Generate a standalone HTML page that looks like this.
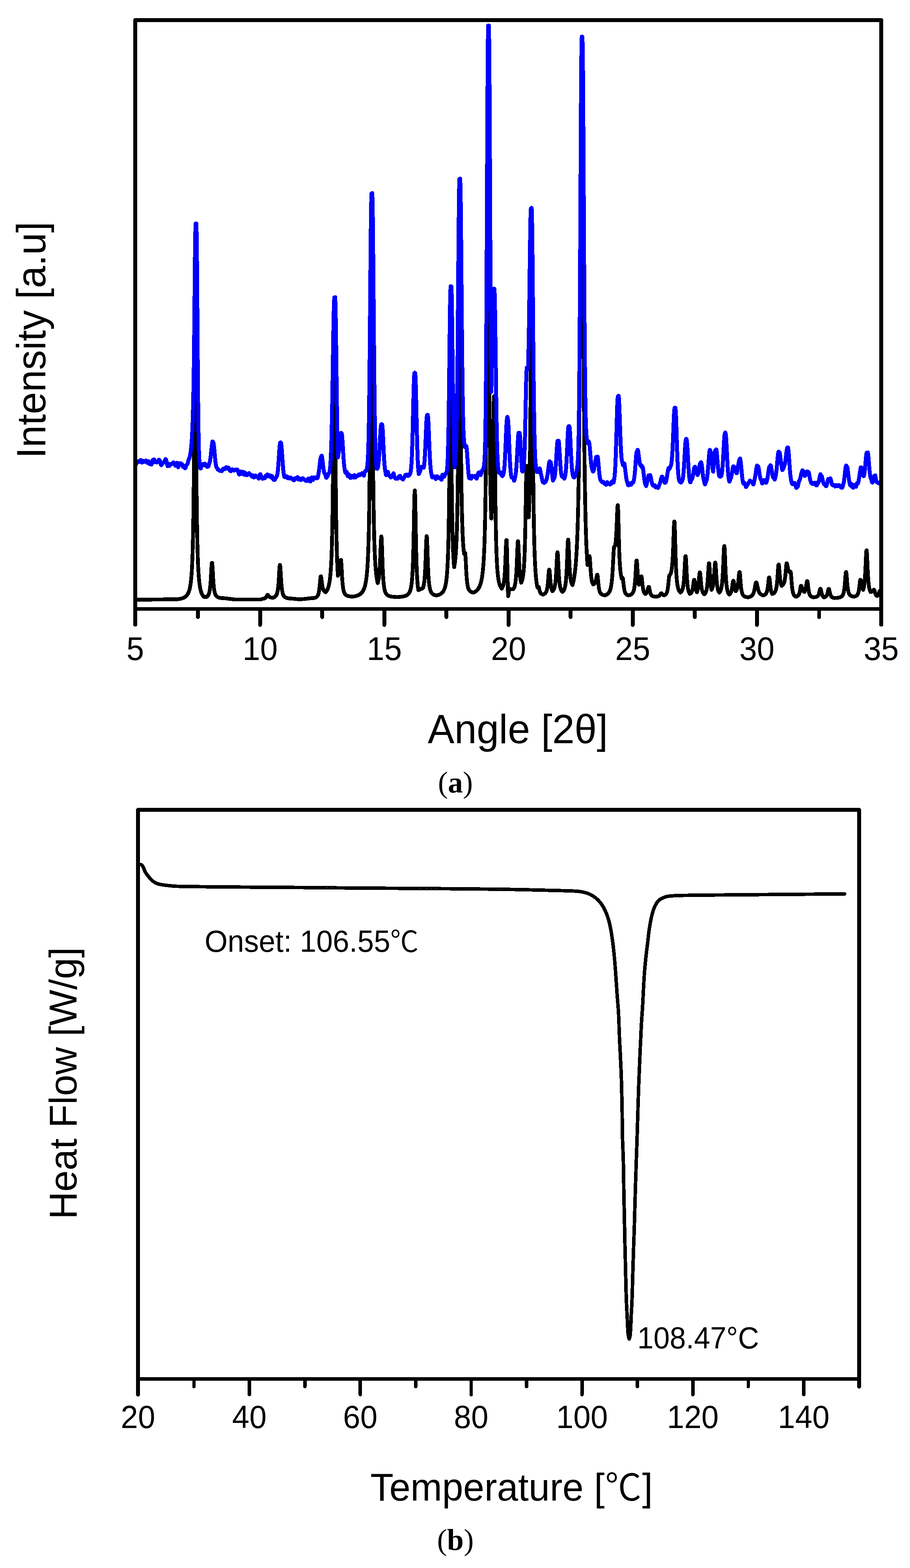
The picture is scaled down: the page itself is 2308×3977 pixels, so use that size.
<!DOCTYPE html>
<html lang="en"><head><meta charset="utf-8"><title>Figure: XRD pattern and DSC curve</title>
<style>html,body{margin:0;padding:0;background:#fff}body{width:2308px;height:3977px;overflow:hidden}svg{display:block}text{font-family:"Liberation Sans","Noto Sans CJK KR",sans-serif;fill:#000}text.cap{font-family:"Liberation Serif","Noto Serif CJK KR",serif}</style></head><body>
<svg width="2308" height="3977" viewBox="0 0 2308 3977" role="img" aria-label="(a) XRD patterns, intensity versus angle 2-theta; (b) DSC curve, heat flow versus temperature">
<rect width="2308" height="3977" fill="#fff"/>
<g id="chart-a">
<clipPath id="clipA"><rect x="343" y="51" width="1892" height="1494"/></clipPath>
<g clip-path="url(#clipA)" fill="none" stroke-linejoin="round" stroke-linecap="round" shape-rendering="crispEdges">
<path d="M345,1521 360,1521 371,1520.9 380,1520.8 387,1520.7 394,1520.6 400,1520.5 407,1520.4 414,1520.3 423,1520.2 434,1520.1 450,1520 455,1519.3 460,1518.2 464,1516.9 468,1515 471,1512.9 474,1509.9 476,1507 477,1505.2 478,1503.1 479,1500.6 480,1497.6 481,1493.9 482,1489.4 483,1483.8 484,1476.6 485,1467.4 486,1455.2 487,1438.8 488,1416.2 489,1383.9 490,1337 491,1267.6 492,1167.1 493,1037.9 494,924 494.9,900 495,900 496,941.5 497,1065.6 498,1191.3 499,1285.4 500,1349.9 501,1393.6 502,1423.7 503,1445 504,1460.5 505,1472 506,1480.8 507,1487.6 508,1493.1 509,1497.4 510,1500.9 511,1503.9 512,1506.3 514,1510.1 516,1512.9 517,1514 524,1514 526,1512.5 527,1511.4 528,1509.9 529,1508.1 530,1505.5 531,1502 532,1496.9 533,1489.5 534,1478.6 535,1462.9 536,1443.7 537,1429.1 537.7,1427.5 538,1427.5 539,1436.6 540,1455.5 541,1472.9 542,1485.7 543,1494.3 544,1500.2 545,1504.3 546,1507.2 547,1509.3 548,1510.9 550,1513.1 552,1514.4 555,1515.7 559,1516.6 562,1517 567,1517.1 576,1518 582,1518.9 595,1520.4 660,1520.5 662,1520.3 667,1518.5 670,1518 672,1517.3 673,1516.7 674,1515.8 675,1514.5 677,1510.4 678,1508.8 679,1508.7 680,1509.6 682,1512.7 684,1514.4 687,1515.5 690,1515.9 692,1516 695,1515 697,1513.9 699,1512.1 700,1510.9 701,1509.3 702,1507.1 703,1504.1 704,1499.8 705,1493.6 706,1484.4 707,1471 708,1453.5 709,1437.1 710,1432.7 711,1437.2 712,1453.7 713,1471.4 714,1484.9 715,1494.2 716,1500.5 717,1504.8 718,1507.9 719,1510.1 720,1511.7 722,1513.9 724,1515.3 727,1516.6 731,1517.5 735,1518 739,1518.1 747,1518.9 756,1519.9 762,1520 774,1519 780,1518.2 790,1517.1 795,1517 798,1516.4 800,1515.8 802,1514.8 804,1513.2 806,1510.5 807,1508.2 808,1505.1 809,1500.5 810,1493.6 811,1483.9 812,1471.9 813,1462.7 814,1461.7 815,1466 816,1474.9 817,1483.1 818,1489.1 819,1493.2 820,1496 821,1497.9 823,1500.2 825,1501.6 826,1502 828,1499.5 830,1496.1 831,1494 832,1491.4 833,1488.3 834,1484.6 835,1480.1 836,1474.4 837,1467.2 838,1457.9 839,1445.7 840,1429.3 841,1406.7 842,1374.6 843,1327.9 844,1259 845,1158.8 846,1027.3 847,904.2 848,871 849,905.1 850,1031.4 851,1166.3 852,1269.1 853,1339.8 854,1387.7 855,1420.6 856,1443.9 857,1460.7 858,1458.8 859,1456 860,1452 861,1446 862,1437.6 863,1427.5 864,1420.5 865,1420.1 866,1431.2 867,1451 868,1468.7 869,1481.4 870,1490.1 871,1496 872,1500.1 873,1503 874,1505.1 875,1506.7 877,1508.9 879,1510.3 881,1511.2 886,1512.5 894,1513.4 901,1512.2 904,1511.4 909,1509.5 912,1507.9 915,1505.7 918,1502.7 920,1499.9 921,1498.3 923,1494.1 924,1491.5 925,1488.5 926,1484.8 927,1480.5 928,1475.2 929,1468.7 930,1460.5 931,1450.3 932,1437.1 933,1419.7 934,1396.3 935,1364 936,1318.2 937,1251.6 938,1153.3 939,1010.4 940,822.9 941,647.4 942,600 943,647 944,821.5 945,1007.7 946,1149.7 947,1247.3 948,1313.5 949,1358.9 950,1391 951,1414.3 952,1431.6 953,1444.7 954,1454.9 955,1462.9 956,1469.4 957,1474.7 958,1479 959,1475.8 960,1471.5 961,1465.4 962,1456.5 963,1443.5 964,1424.3 965,1398.4 966,1371.6 967,1360.7 967.2,1360.7 968,1364.9 969,1391.6 970,1424 971,1449.8 972,1467.7 973,1479.8 974,1488.1 975,1493.9 976,1498.1 977,1501.2 978,1503.6 979,1505.4 981,1508 983,1509.7 986,1511.3 990,1512.6 993,1513.2 1000,1514 1006,1514.3 1008,1514.4 1019,1513.4 1025,1512.3 1028,1511.4 1031,1510.1 1034,1508.1 1036,1506.1 1038,1503.2 1039,1501.3 1040,1498.9 1041,1495.9 1042,1491.9 1043,1486.8 1044,1479.9 1045,1470.3 1046,1456.7 1047,1437 1048,1407.9 1049,1365.6 1050,1310 1051,1258 1052,1244 1053,1258.6 1054,1312.8 1055,1370.6 1056,1414.7 1057,1445 1058,1465.5 1059,1479.6 1060,1489.6 1061,1496.8 1063,1496.4 1068,1493.4 1070,1493 1071,1492.5 1072,1491.5 1073,1491 1074,1487.5 1075,1482.7 1076,1475.9 1077,1466.1 1078,1451.7 1079,1430.5 1080,1401.8 1081,1372 1082,1360 1082.2,1360 1083,1364.1 1084,1390.5 1085,1422.5 1086,1447.9 1087,1465.6 1088,1477.6 1089,1485.8 1090,1491.5 1091,1495.7 1092,1498.7 1093,1501 1094,1502.8 1096,1505.4 1099,1507.7 1103,1509.4 1107,1510.3 1112,1509 1117,1506.8 1120,1504.7 1122,1502.8 1124,1500.2 1126,1496.7 1127,1494.4 1128,1491.7 1129,1488.3 1130,1484.2 1131,1479 1132,1472.4 1133,1463.7 1134,1452.2 1135,1436.6 1136,1414.7 1137,1383.2 1138,1337 1139,1268.9 1140,1173.3 1141,1062.3 1142,992.3 1142.5,990 1143,992.2 1144,1058.6 1145,1163.9 1146,1254.6 1147,1319.3 1148,1363.1 1149,1392.9 1150,1413.7 1151,1428.5 1151.9,1438.5 1153,1432.3 1154,1425.2 1155,1416.2 1156,1404.4 1157,1388.8 1158,1367.5 1159,1337.9 1160,1295.5 1161,1233.4 1162,1141.6 1163,1011.5 1164,856 1165,747.3 1165.6,740 1166,740.8 1167,824.6 1168,974.7 1169,1108.5 1170,1204.8 1171,1270.1 1172,1314.6 1173,1345.5 1174,1367.5 1175,1383.6 1176,1395.7 1177,1405 1178,1403.2 1179,1402 1180,1402.5 1181,1416.2 1182,1438 1183,1456.9 1184,1470.2 1185,1479.3 1186,1485.5 1187,1489.8 1188,1492.9 1189,1495.2 1190,1496.9 1192,1499.2 1194,1500.7 1197,1502 1200.8,1503 1203,1502 1205,1500.9 1209,1497.9 1211,1495.9 1213,1493.3 1215,1490.1 1217,1485.8 1218,1483.2 1219,1480.2 1220,1476.6 1221,1472.3 1222,1467.2 1223,1461.1 1224,1453.5 1225,1444.2 1226,1432.4 1227,1417.4 1228,1397.6 1229,1371.3 1230,1335.3 1231,1284.6 1232,1211.4 1233,1103.7 1234,945.4 1235,727.9 1236,493.1 1237,380 1237.3,380 1238,398.4 1239,568.5 1240,791.4 1241,972.8 1242,1099.7 1243,1185.6 1244,1244.3 1245,1285.4 1246,1315 1247,1296.4 1248,1269.4 1249,1229.5 1250,1171.5 1251,1095.5 1252,1024.2 1253,1005 1254,1030.8 1255,1126.5 1256,1228.7 1257,1306.5 1258,1360.1 1259,1396.4 1260,1421.3 1261,1438.9 1262,1451.7 1263,1461.2 1264,1468.4 1265,1474 1266,1478.4 1267,1481.9 1268,1484.8 1269,1487.2 1270,1489.2 1272,1492.3 1272.6,1493 1274,1490.8 1275,1488.7 1276,1485.9 1277,1482.1 1278,1476.8 1279,1469.2 1280,1458 1281,1441.5 1282,1418.2 1283,1390.2 1284,1370.7 1284.6,1369.4 1285,1369.7 1286,1396.8 1287,1445.5 1288,1488.9 1288.7,1512 1289,1511.6 1290,1505.9 1291,1497.8 1292,1494 1300,1494.6 1301.7,1494.6 1303,1492.6 1304,1490.6 1305,1487.9 1306,1484.3 1307,1479.2 1308,1472 1309,1461.4 1310,1445.8 1311,1423.5 1312,1396 1313,1375.1 1313.7,1372.8 1314,1372.8 1315,1384.8 1316,1409.7 1317,1432.8 1318,1449.6 1319,1461 1320,1468.8 1321,1474.2 1322,1478 1323,1475.6 1324,1472.7 1325,1468.9 1326,1464.1 1327,1457.7 1328,1448.9 1329,1436.8 1330,1419.5 1331,1394.1 1332,1356.6 1333,1303.1 1334,1237.3 1335,1187.1 1335.7,1181.7 1336,1181.7 1337,1198.9 1338,1234.6 1339,1267.7 1340,1291.8 1341,1308.2 1341.3,1312 1342,1288.7 1343,1243.2 1344,1176.2 1345,1077.5 1346,940.4 1347,786.6 1348,700.8 1348.4,700 1349,708.2 1350,830.4 1351,1005.3 1352,1151.6 1353,1254.7 1354,1324.6 1355,1372.3 1356,1405.6 1357,1429.5 1358,1447 1359,1460.3 1360,1470.5 1361,1478.5 1362,1484.8 1363,1490 1364,1488.8 1365,1488 1366,1488.1 1367,1491 1368,1495.5 1369,1499.4 1370,1502.2 1371,1504.1 1372,1505.4 1374,1506.9 1377,1508 1381,1506.3 1383,1504.6 1385,1501.7 1386,1499.4 1387,1496.1 1388,1491.3 1389,1484.3 1390,1474.1 1391,1460.6 1392,1448.1 1393,1444.7 1394,1448 1395,1460.1 1396,1473 1397,1482.9 1398,1489.7 1399,1494.3 1400,1497.5 1401,1499.7 1403,1497.6 1404,1496 1405,1494 1406,1491.2 1407,1487.4 1408,1482 1409,1474.1 1410,1462.4 1411,1445.6 1412,1423.9 1413,1404.7 1413.9,1400.7 1414,1400.7 1415,1407.8 1416,1428.9 1417,1450.4 1418,1466.4 1419,1477.4 1420,1484.9 1421,1490 1422,1493.6 1423,1496.3 1424,1498.2 1426,1500.9 1426.5,1501.4 1428,1500 1429,1498.7 1430,1497.1 1431,1495.1 1432,1492.4 1433,1488.7 1434,1483.7 1435,1476.5 1436,1466 1437,1450.6 1438,1428.2 1439,1399.4 1440,1374 1440.9,1368.7 1441,1368.7 1442,1377 1444,1426.7 1445,1445.4 1446,1458.2 1447,1466.9 1448,1472.9 1449,1477.2 1450,1480.3 1451,1482.6 1452,1484.3 1453,1480.7 1454,1476.6 1455,1471.8 1456,1466.4 1457,1460.1 1458,1452.8 1459,1444.1 1460,1433.9 1461,1421.6 1462,1406.7 1463,1388.5 1464,1365.9 1465,1337.6 1466,1301.5 1467,1254.8 1468,1193.5 1469,1112 1470,1002.6 1471,856.7 1472,668.2 1473,446.3 1474,236 1475,123.5 1475.5,120 1476,123.5 1477,237 1478,449.1 1479,673 1480,863.1 1481,1010.4 1482,1120.7 1483,1202.9 1484,1264.8 1485,1311.9 1486,1348.3 1487,1376.9 1488,1399.6 1489,1418 1490,1433 1491,1429.6 1492,1424.7 1493,1418.2 1494,1412.1 1495,1410.5 1496,1414.6 1497,1429.9 1498,1446.2 1499,1458.6 1500,1467.2 1501,1473 1502,1476.9 1503,1479.8 1504.5,1482.6 1507,1481.1 1508,1480.1 1509,1478.6 1510,1476.5 1511,1473.3 1512,1468.8 1513,1463 1514,1458.3 1515,1457.6 1516,1462 1517,1473 1518,1483.5 1519,1491.3 1520,1496.7 1521,1500.3 1522,1502.8 1523,1504.5 1525,1506.8 1528,1508.6 1533,1509.9 1534,1510 1538,1508.5 1541,1506.6 1543,1504.7 1545,1502 1546,1500.2 1547,1497.9 1548,1495 1549,1491.3 1550,1486.4 1551,1480 1552,1471.5 1553,1460 1554,1444.8 1555,1425.9 1556,1405.5 1557,1389.8 1558,1386 1559,1385.6 1560.5,1383 1561,1379.3 1562,1369.3 1563,1354.6 1564,1333.4 1565,1306.6 1566,1284.6 1566.8,1281.2 1567,1281.2 1568,1298 1569,1339.6 1570,1379.7 1571,1409.3 1572,1429.5 1573,1443.3 1574,1452.7 1575,1459.4 1576,1464.3 1577,1468 1578,1466 1579,1465.5 1580,1467.9 1581,1476.8 1582,1486.2 1583,1493.5 1584,1498.4 1585,1501.8 1586,1504.1 1587,1505.7 1588,1506.9 1590,1508.5 1592,1509.4 1594,1510 1598,1509 1601,1507.6 1603,1506 1604,1504.9 1605,1503.4 1606,1501.5 1607,1498.9 1608,1495.2 1609,1490 1610,1482.3 1611,1471 1612,1454.9 1613,1435.7 1614,1422.3 1614.6,1421.4 1615,1421.5 1616,1430.8 1617,1447.5 1618,1462.3 1619,1473 1620,1480.3 1620.5,1483 1622,1479.9 1623,1476.5 1624,1471.7 1625,1466 1626,1462 1627,1461.8 1628,1467.5 1629,1477.8 1630,1487 1631,1493.6 1632,1498.1 1633,1501.1 1634,1503.2 1635,1504.7 1636.9,1506.6 1639,1505 1640,1503.7 1641,1501.9 1642,1499.1 1643,1495.2 1644,1490.9 1645,1488.5 1646,1488.8 1647,1492.6 1648,1498 1649,1502.6 1650,1505.8 1651,1508 1652,1509.4 1653,1510.5 1655,1511.8 1658,1512.8 1662,1513.4 1667,1513 1670,1512.3 1672,1511.3 1674,1509 1676,1505.3 1677.2,1504.5 1678,1504.7 1681,1508.2 1683,1509.5 1684.7,1510 1687,1508.8 1689,1507 1690,1505.6 1691,1503.7 1692,1501.1 1693,1497.2 1694,1491.4 1695,1483 1696,1472.1 1697,1461.8 1698,1459 1699,1458.5 1701,1455 1702,1451.7 1703,1447.1 1704,1440.8 1705,1431.6 1706,1418.2 1707,1398.4 1708,1370.8 1709,1339.9 1710,1322.7 1710.4,1322.5 1711,1324.4 1712,1352.2 1713,1392 1714,1425.2 1715,1448.7 1716,1464.6 1717,1475.4 1718,1483 1719,1488.4 1720,1492.4 1721,1495.5 1722,1497.8 1723,1499.6 1725,1502.2 1725.8,1503 1728,1500.8 1729,1499.3 1730,1497.3 1731,1494.7 1732,1491 1733,1485.8 1734,1478.1 1735,1466.8 1736,1450.5 1737,1430 1738,1413.1 1738.8,1410.5 1739,1410.5 1740,1419.1 1741,1440.2 1742,1460.6 1743,1475.7 1744,1486 1745,1493 1746,1497.8 1747,1501.2 1748,1503.7 1749,1505.6 1749.7,1506.6 1752,1505 1753,1503.9 1754,1502.4 1755,1500.2 1756,1497 1757,1492.3 1758,1485.6 1759,1477.3 1760,1471 1761,1470.3 1762,1474.1 1763,1482.1 1764,1489.5 1765,1494.9 1766,1498.6 1767,1501.1 1767.5,1502 1768,1500.9 1769,1497.9 1770,1493.6 1771,1487.3 1772,1478 1773,1465.9 1774,1454.6 1775,1451.5 1776,1454.6 1777,1466.1 1778,1478.4 1779,1487.7 1780,1494.1 1781,1498.5 1782,1501.5 1783,1503.6 1785,1506.3 1786.5,1507.5 1788,1505.9 1789,1504.4 1790,1502.5 1791,1499.8 1792,1496 1793,1490.5 1794,1482.5 1795,1470.7 1796,1454.5 1797,1436.9 1798,1428.5 1798.3,1428.5 1799,1430 1800,1443.7 1801,1461.7 1802,1476.3 1803,1486.5 1804,1493.4 1804.5,1496 1806,1493.3 1807,1490.6 1808,1486.8 1809,1481.2 1810,1473 1811,1461.1 1812,1445.4 1813,1430.8 1814,1426.8 1815,1431.1 1816,1447 1817,1464 1818,1476.9 1819,1485.8 1820,1491.8 1821,1496 1822,1498.9 1823,1501 1824.3,1503 1826,1500.8 1827,1499 1828,1496.6 1829,1493.4 1830,1489 1831,1482.8 1832,1473.7 1833,1460.3 1834,1440.8 1835,1415.2 1836,1391.3 1837,1384.8 1838,1391.5 1839,1416.5 1840,1443.2 1841,1463.6 1842,1477.5 1843,1487 1844,1493.5 1845,1498.1 1846,1501.5 1847,1503.9 1848,1505.8 1849.6,1508 1851,1507 1852,1506 1853,1504.6 1854,1502.6 1855,1499.7 1856,1495.4 1857,1489.3 1858,1481.3 1859,1474.3 1860,1472.8 1861,1475.1 1863,1488.7 1864,1493.8 1865,1497.3 1866,1499.7 1867,1498.6 1868,1497 1869,1494.8 1870,1491.7 1871,1487.1 1872,1480.4 1873,1470.8 1874,1459.3 1875,1451.3 1876,1450.9 1877,1458.6 1878,1472.3 1879,1484.6 1880,1493.5 1881,1499.5 1882,1503.6 1883,1506.4 1884,1508.4 1885,1509.9 1887,1511.9 1889,1513.1 1893,1514.4 1897,1515 1900,1514.4 1903,1513.4 1906,1511.7 1908,1509.7 1909,1508.4 1910,1506.7 1911,1504.5 1912,1501.6 1913,1497.8 1914,1493.2 1916,1482.1 1917,1478.1 1918,1477.2 1919,1478 1920,1481.6 1922,1491.3 1923,1495.4 1924,1498.7 1925,1501.3 1926,1503.2 1928,1505.9 1929,1506.9 1932,1508.7 1935,1509.8 1936,1510 1938,1509.4 1940,1508.4 1942,1506.7 1943,1505.4 1944,1503.6 1945,1501.1 1946,1497.3 1947,1491.9 1948,1483.9 1949,1474 1950,1465.8 1951,1464.5 1952,1468.6 1954,1488.3 1955,1495.4 1956,1500.3 1957,1503.6 1958.4,1506.6 1961,1505.6 1963,1504.3 1964,1503.4 1965,1502.2 1966,1500.6 1967,1498.5 1968,1495.6 1969,1491.5 1970,1485.4 1971,1476.4 1972,1463.5 1973,1447.3 1974,1433.9 1974.8,1431.8 1975,1431.8 1976,1437.1 1977,1450 1978,1462.5 1979,1471.8 1980,1478.1 1981,1482.3 1982.3,1486 1984,1485 1985,1484.2 1987,1481.7 1988,1479.8 1989,1477.1 1990,1473.2 1991,1467.4 1992,1458.9 1993,1447.2 1994,1434.7 1995,1428.6 1996,1429.1 1997,1433.5 1998,1439.2 1999,1443.9 2000,1447.2 2001,1449.4 2002,1450.9 2003,1452 2004,1450.4 2005,1450 2006,1453.5 2007,1466.2 2008,1479.9 2009,1490.3 2010,1497.5 2011,1502.3 2012,1505.7 2013,1508 2014,1509.7 2016,1512 2018.2,1513.4 2020,1513 2022,1512.2 2024,1510.9 2025,1509.8 2026,1508.3 2027,1506.1 2028,1502.9 2029,1498.2 2030,1492.1 2031,1486.8 2032,1485.7 2033,1486.9 2035,1494 2036,1496.7 2037,1498.5 2038,1499.7 2040.4,1501.4 2042,1498.3 2043,1495.1 2044,1490.4 2045,1484 2046,1477 2047,1473.7 2048,1474.4 2049,1481.4 2050,1490.5 2051,1497.8 2052,1503 2053,1506.5 2054,1508.9 2055,1510.6 2057,1512.7 2060,1514.3 2063,1515 2067,1514.6 2071,1513.6 2073,1512.5 2074,1511.7 2075,1510.5 2076,1508.7 2077,1506.1 2078,1502.4 2079,1497.7 2080,1493.8 2081,1493.2 2082,1495.2 2084,1504.9 2085,1508.5 2086,1510.9 2087,1512.5 2089,1514.4 2090,1515 2093,1514 2095,1512.6 2096,1511.4 2097,1509.8 2098,1507.3 2099,1503.8 2100,1499.1 2101,1494.7 2102,1493.5 2103,1494.8 2105,1504.3 2106,1508.1 2107,1510.7 2108,1512.5 2109,1513.7 2111,1515.1 2113,1516 2117,1516.8 2125,1516.2 2129,1515.4 2132,1514.4 2134,1513.3 2136,1511.5 2137,1510.2 2138,1508.3 2139,1505.8 2140,1502.2 2141,1497 2142,1489.3 2143,1478.2 2144,1464.2 2145,1452.6 2145.8,1450.8 2146,1450.8 2147,1456.1 2148,1469.2 2149,1481.8 2150,1491.1 2151,1497.4 2152,1501.8 2153,1504.7 2154,1506.8 2155,1508.4 2157,1510.4 2160,1512.1 2165,1513.4 2169,1512.6 2172,1511.2 2174,1509.4 2175,1508 2176,1506.1 2177,1503.3 2178,1499.3 2179,1493.3 2180,1484.9 2181,1475.6 2182,1470.3 2183,1470.6 2184,1475.3 2185,1482 2186,1487.6 2187,1491.5 2188,1494.2 2189.2,1496.3 2190,1493.8 2191,1489.5 2192,1483.4 2193,1474.5 2194,1461.4 2195,1442.5 2196,1418.7 2197,1399.1 2197.8,1396 2198,1396 2199,1405.5 2200,1428.9 2201,1451.6 2202,1468.3 2203,1479.7 2204,1487.4 2205,1492.8 2206,1496.6 2207,1499.3 2208,1501.4 2210,1501 2212,1500.1 2213,1499.3 2215,1496.8 2216,1495.9 2217,1495.8 2218,1498 2219,1501.9 2220,1505.3 2221,1507.8 2222,1509.5 2223,1510.7 2224.4,1511.7 2226,1510.5 2227,1509.4 2228,1507.7 2229,1505.2 2231,1498.8 2232,1498 2233,1498" stroke="#000" stroke-width="9.6"/>
<path d="M345,1177.6 346,1174.4 347,1172.1 349,1172 350,1172.2 351,1170.7 352,1169.6 353,1170.3 354,1170.3 355,1169.6 357,1166.7 358,1170.7 359,1173.1 360,1173.2 361,1171.4 362,1168.8 363,1169.2 364,1170.2 365,1171.6 366,1171.6 370,1167.9 371,1169.1 372,1172.3 373,1173.3 374,1173.8 377,1170 378,1172.5 379,1176.7 380,1175.4 381,1174.5 382,1173.9 383,1175.5 384,1178.5 385,1175.6 387,1168.4 388,1166.5 389,1166.3 390,1165.5 391,1165.3 392,1169.9 393,1172.3 395,1171 396,1170.7 397,1172.4 398,1172.8 399,1170.1 400,1169.5 401,1170.4 402,1168 403,1165.9 404,1166.7 405,1167.9 406,1169.6 408,1179 409,1179.8 410,1179 411,1175.6 412,1174.6 413,1174.7 415,1173.1 416,1172.9 417,1171.1 419,1166.1 420,1164.3 421,1165.2 422,1168.6 423,1174.5 424,1179 425,1182.5 426,1179.6 427,1177.3 428,1176.2 429,1178.2 430,1181.6 432,1178.5 433,1177.4 434,1177.1 435,1177.2 437,1175.9 439,1173.6 440,1172.7 441,1174.8 442,1177.5 444,1179.8 445,1181.3 446,1179.7 447,1176.7 448,1174.2 449,1173.6 451,1181.6 452,1185.3 453,1183 454,1179.8 455,1177.2 456,1175.5 457,1174.6 459,1175.4 461,1177.2 462,1177.6 463,1180.4 464,1184.1 465,1182.7 466,1181.9 467,1182.5 468,1184.5 469,1187.6 470,1187.6 471,1185.6 472,1181.9 473,1179.5 475,1177.2 476,1175.5 478,1167.9 479,1164.3 480,1162.4 481,1160 482,1155.6 483,1149.8 484,1142.3 485,1133.2 486,1121.7 487,1106.8 488,1086.8 489,1059.2 490,1020.9 491,968.2 492,897 493,805.5 494,700.3 495,606.5 496,567.1 497,571.5 498,567.1 499,607.1 500,712.4 501,846.7 502,972.5 503,1067.1 504,1126.4 505,1157.8 506,1172.2 508,1187.9 509,1188.5 510,1186.2 511,1182.5 512,1179.5 513,1177.9 514,1177.1 515,1176.7 517,1180.2 518,1179.9 519,1178.4 520,1176.1 522,1179.5 523,1180.1 524,1181.6 525,1184 526,1184 527,1183.5 528,1183.6 529,1181.9 530,1177.6 532,1171.3 533,1167.1 534,1160.5 535,1151.9 536,1142 537,1132.4 538,1124.6 539,1119.5 541,1121.9 542,1125.5 543,1133.9 544,1145.1 545,1156.7 546,1167.1 547,1175.7 548,1181.8 549,1184.8 550,1186.4 551,1187.5 552,1190.5 553,1191.8 555,1192.1 556,1192.4 557,1193.8 558,1194.4 561,1194.5 562,1195 563,1194.6 564,1193 566,1188.8 568,1188.4 570,1189 571,1189.8 573,1185.7 574,1184.8 575,1185.7 576,1188.4 577,1187.5 578,1185.9 579,1185.6 580,1187 581,1190.9 582,1192.5 583,1193.1 584,1194.5 585,1195.1 587,1192.3 588,1190.7 589,1190.4 590,1190.6 591,1192.1 592,1193.1 593,1193.6 595,1192.6 596,1192.4 598,1190.8 599,1191.4 600,1192.6 601,1191.2 602,1191 603,1193.8 605,1200.3 606,1202.4 607,1203.6 608,1202.8 609,1200.1 610,1195.5 611,1196.7 612,1199.4 613,1201.6 614,1202.4 615,1201 616,1199 617,1196.5 619,1202.2 620,1204.3 621,1202.9 622,1199.1 623,1201.2 624,1203.8 625,1205.5 626,1205.3 627,1203.3 629,1203.7 630,1201.8 631,1200.5 632,1200.2 634,1202.1 635,1204.2 636,1205.9 639,1208.9 640,1206.9 641,1205.4 642,1206.7 643,1208.6 644,1211.1 645,1210.7 646,1209.3 647,1206.7 648,1205.9 649,1207.9 650,1208.3 651,1207.9 654,1211.4 656,1213.9 657,1211.5 658,1208.4 659,1204.2 660,1202.6 661,1203.7 663,1210.9 664,1211.5 665,1212.6 666,1214.5 667,1214.2 669,1211.8 670,1211.6 671,1213.4 672,1212.1 673,1208.3 674,1206.5 675,1205.8 676,1208.5 677,1207.6 678,1203.3 679,1203.7 681,1207.9 682,1207.9 683,1206.1 684,1205.6 685,1205.5 686,1209 687,1210.9 688,1209 689,1207.9 690,1207.3 691,1209.8 693,1215.5 694,1217.1 695,1217.4 697,1217.2 698,1214.9 699,1213 701,1209.8 703,1205.4 704,1199.9 705,1191.1 706,1178.9 707,1164.1 708,1148.3 709,1134.1 710,1125 711,1122.4 712,1122.2 713,1124.1 714,1131.6 715,1144.7 716,1160.1 717,1175 718,1187.6 719,1197.2 720,1204.3 721,1209.1 722,1210.1 724,1208.2 725,1207.6 726,1207.7 728,1211.4 729,1212.6 731,1209.8 733,1212 734,1213.5 735,1213 736,1211.6 737,1211.3 738,1211.7 739,1213.9 740,1214.5 741,1214.1 742,1214.7 743,1215.7 744,1217.6 745,1218.5 746,1218.1 747,1215.8 748,1213.1 749,1212.5 750,1212.8 751,1214 752,1213.3 753,1211.9 754,1210.2 755,1210.3 756,1214.6 757,1216.4 758,1216.5 760,1215.4 761,1214.1 762,1214.9 763,1217.7 764,1217.1 765,1215.8 767,1214.1 768,1213 769,1213.7 770,1215.3 772,1216.7 774,1218 775,1219 777,1219.6 778,1220.2 779,1219.2 780,1216.5 781,1214.8 782,1213.6 785,1219.3 786,1220.6 787,1221.5 788,1218.9 789,1215.8 790,1211.3 791,1211.2 792,1213.9 793,1216.2 794,1217.4 795,1214.6 796,1212.4 797,1210.7 798,1210.9 799,1211.6 800,1211.3 801,1211.6 802,1212.8 803,1213.1 804,1212.9 805,1213.1 806,1210.9 807,1206.2 808,1200.8 809,1194.1 810,1186.4 811,1177.5 812,1169 813,1162.6 814,1159 815,1156.8 816,1155.5 817,1160.1 818,1167.7 819,1176.9 820,1185.8 821,1193.3 822,1198.2 823,1200.5 824,1201.6 825,1203.7 826,1207.7 827.4,1211.6 828,1212 831,1207.6 833,1201.6 835,1199.3 836,1196.3 837,1189.3 838,1178 839,1160.7 840,1135.4 841,1100.1 842,1053.9 843,997.4 844,933.7 845,868.4 846,810 847,768.7 848,754.3 849,757.7 850,753.7 851,775.8 852,834.6 853,912.6 854,993 855,1064.1 856,1120.1 857,1160 858,1154.8 859,1148.6 860,1140 861,1129.2 862,1117.6 863,1107.1 864,1100.1 865,1098.1 866,1098.6 867,1099.9 868,1108.2 869,1123.1 870,1140.6 871,1157.4 872,1171.5 873,1182.1 874,1189.3 875,1195.1 876,1198.9 877,1199.9 879,1196.4 880,1198.9 881,1202.8 882,1207.9 883,1206.4 884,1203.7 885,1203.3 886,1204.5 887,1207.8 888,1210.3 889,1212.4 890,1211.8 891,1210.5 892,1208 893,1207.1 894,1207.1 895,1209.4 896,1211 897,1209.4 899,1205.2 900,1207.8 901,1211.1 902,1211 903,1209.7 904,1207.5 905,1206.7 906,1206.4 907,1206.8 908,1206.6 909,1204.8 910,1203.6 911,1203 912,1204.6 913,1205.1 914,1203.3 915,1202.7 916,1203.4 918,1200.2 919,1201.1 921,1203.6 923,1206.7 924,1201.9 925,1197.9 926,1195.5 927,1194.6 928,1194.3 929,1192.8 930,1190.5 931,1186.3 932,1178.5 933,1164.7 934,1141.1 935,1103.1 936,1045.3 937,964.5 938,861.7 939,744.5 940,628.1 941,535.4 942,491.5 943,491.7 943.2,490.5 944,489.7 945,510.8 946,587.5 947,698.2 948,818.3 949,929.1 950,1019.7 951,1087 952,1132.7 953,1161.5 954,1178.8 955,1188.5 956,1188.3 957,1189 958,1186.5 959,1181.7 960,1174.6 961,1164.7 962,1151 963,1133.6 964,1113.9 965,1094.8 966,1080.5 967,1076 968,1077.7 969,1076.4 970,1081.1 971,1097.3 972,1118.7 973,1140.9 974,1160.5 975,1175.9 976,1186.7 977,1194.1 979,1204.8 980,1204.6 981,1202.1 982,1198.6 983,1196.9 984,1197.2 986,1205.7 987,1206.1 988,1206.9 990,1209.6 991,1211.1 993,1209.7 994,1208.8 995,1207.2 996,1205.1 997,1202.2 998,1200.4 999,1203.4 1000,1206.9 1001,1210.9 1002,1212.8 1003,1213.8 1004,1214.4 1005,1214.4 1006,1213.6 1009,1213.8 1010,1212.8 1011,1209.8 1012,1208.3 1014,1206.9 1015,1207.2 1016,1210.7 1017,1212.6 1018,1212.6 1020,1214.4 1021,1215.9 1022,1216.2 1023,1214.7 1025,1210.1 1026,1209.1 1027,1207.5 1028,1204.6 1029,1204.4 1030,1206.6 1031,1206.3 1032,1205.5 1033,1203.6 1034,1204.3 1035,1207.3 1036,1206.7 1037,1205.3 1038,1205.2 1039,1204.2 1040,1202 1041,1199.4 1042,1194.2 1043,1185 1044,1170.4 1045,1148.3 1046,1117.5 1047,1078.2 1048,1033.9 1049,990.9 1050,958.5 1051,946.4 1052,945.3 1053,945.9 1054,958.9 1055,992.6 1056,1037.3 1057,1083.3 1058,1124 1059,1156 1060,1178.8 1061,1193.6 1062,1202.3 1063,1200.9 1064,1198.9 1065,1196.4 1068,1187.2 1069,1183.8 1070,1183.7 1071,1184.9 1074,1183.1 1075,1185.8 1076,1178.7 1077,1166.5 1078,1149.2 1079,1127.1 1080,1102.2 1081,1078 1082,1059.8 1083,1053.3 1084,1052.2 1085,1052.5 1086,1060.2 1087,1079.6 1088,1105.2 1089,1131.7 1090,1155.2 1091,1173.5 1092,1186.6 1093,1195.1 1094,1201.2 1095,1206.5 1096,1210.6 1097,1210.6 1098,1207.5 1100,1208.2 1101,1208.3 1102,1209.6 1103,1211.9 1105,1214.9 1106,1214.7 1107,1212.7 1108,1208 1109,1207.9 1110,1209.8 1113,1212.4 1114,1212.1 1115,1211.2 1116,1211.3 1117,1212.1 1118,1215.2 1119,1216.6 1120,1216.4 1121,1210.4 1122,1204 1124,1207.6 1125,1209.6 1126,1209.4 1127,1208.2 1130,1201 1132,1199.6 1133,1197.2 1134,1190 1135,1176.3 1136,1152.3 1137,1113.3 1138,1055.6 1139,979.2 1140,890.9 1141,805 1142,743.2 1143,726 1144,727 1145,727.1 1146,763.7 1147,838.6 1148,928.4 1149,1013.9 1150,1083.7 1151,1134 1152,1166.7 1152.8,1185.3 1153,1183.5 1154,1178.4 1155,1170.3 1156,1157.2 1157,1134.9 1158,1097.8 1159,1040.2 1160,957.8 1161,850.9 1162,727 1163,602.5 1164,502.2 1165,454.3 1166,455.5 1166.2,455.4 1167,452.9 1168,473.9 1169,550.9 1170,661.4 1171,779.7 1172,887.3 1173,973.8 1174,1036.6 1175,1078.3 1176,1104 1177,1119.1 1178,1127.7 1179,1134.1 1180,1134.2 1181,1134.7 1181.5,1134.5 1182,1132.8 1183,1131.6 1184,1140.2 1185,1154.1 1186,1170.2 1187,1185.3 1188,1198 1189,1207.3 1190,1212.8 1191,1209.7 1192,1209.5 1193,1212 1194,1213.2 1195,1214.1 1196,1209.7 1197,1207.2 1198,1209.1 1199,1209.7 1201,1208.6 1202,1208.2 1203,1209.2 1204,1208.9 1205,1207.2 1206,1208.9 1208,1213.5 1209,1213.8 1210,1211 1211,1207.4 1212,1203.4 1213,1200.7 1214,1198.5 1215,1197.9 1216,1198.1 1217,1198.7 1218,1202.4 1219,1205.1 1220,1202.4 1221,1199.2 1222,1195.5 1223,1193.3 1224,1191.4 1225,1190.1 1226,1188 1227,1184.5 1228,1178.1 1229,1166.1 1230,1143.6 1231,1101.5 1232,1027.5 1233,909.1 1234,740.1 1235,529.9 1236,309.8 1237,133.8 1238,64.9 1239,71.1 1240,64.8 1241,130.2 1242,296.9 1243,505.5 1244,704.6 1245,864.7 1246,977 1246.2,994 1247,960.3 1248,908.2 1249,849.4 1250,792.3 1251,749.3 1252,732.7 1253,732 1254,732.9 1255,755.3 1256,814.1 1257,892 1258,972.4 1259,1043.5 1260,1099.4 1261,1139.3 1262,1165.3 1263,1181.1 1264,1190.3 1265,1195.8 1266,1199.4 1267,1200 1268,1197.8 1269,1197.5 1270,1198.3 1271,1202.6 1272,1205.4 1274.3,1207.5 1275,1206.9 1276,1205.2 1277,1202.2 1278,1197 1279,1188.9 1280,1176.4 1281,1158.9 1282,1136.7 1283,1111.6 1284,1087.2 1285,1068.7 1286,1059.7 1287,1057.3 1288,1061.4 1289,1069.3 1290,1088.4 1291,1113.8 1292,1139.9 1293,1163.1 1294,1181.3 1295,1194.5 1296,1203.3 1297,1209.2 1298,1211.5 1299,1211.7 1301,1211.2 1302,1211.5 1303,1216.2 1304,1219.5 1305,1216.7 1306,1213 1307,1208.3 1308,1202.2 1309,1193.6 1310,1181.5 1311,1165.4 1312,1146.1 1313,1125.8 1314,1108.1 1315,1097.9 1316,1099.2 1317,1099.5 1318,1098.2 1319,1108.3 1320,1126 1321,1146.4 1322,1165.8 1323,1181.9 1324,1194.6 1325,1196.2 1326,1194.3 1327,1189.2 1328,1183.2 1329,1173.3 1330,1156.1 1331,1128.6 1332,1089.2 1333,1040.3 1334,989.1 1335,948.1 1336,932.7 1337,937.1 1338,936 1339,931.1 1339.5,928 1340,910.2 1341,862.9 1342,799.7 1343,723.7 1344,643.5 1345,573.6 1346,531.7 1347,528.3 1347.5,528.6 1348,527.1 1349,534.1 1350,594.5 1351,695.1 1352,810.3 1353,919.7 1354,1010.7 1355,1078.7 1356,1125 1357,1154.2 1358,1171.6 1359,1181.9 1360,1188.7 1361,1194 1362,1197.3 1363,1197.4 1365,1197 1366,1195.3 1367,1191.5 1368,1188.5 1368.4,1187.6 1369,1188.3 1370,1191.1 1371,1197.4 1372,1202.6 1373,1206.6 1374,1211 1375,1216.2 1376,1220.2 1377,1223.2 1378.7,1222.7 1380,1225 1381,1224.7 1382,1223.4 1383,1223 1384,1221.8 1386,1216.8 1387,1213.6 1388,1208.5 1389,1202.2 1390,1194.9 1392,1178.1 1393,1171.9 1394,1170.1 1395,1171.7 1396,1171.9 1397,1172.8 1398,1179.7 1399,1189.1 1400,1199.1 1401,1208 1402,1215 1402.6,1218.8 1404,1214 1405,1214.2 1406,1212.6 1407,1208.1 1408,1200.8 1409,1190.3 1410,1176.4 1411,1159.8 1412,1142.2 1413,1126.8 1414,1118.4 1415,1119.4 1416,1118.2 1417,1118 1418,1126.7 1419,1141.7 1420,1158.8 1421,1175.1 1422,1188.6 1423,1198.7 1424,1205 1425,1208 1426,1209 1428,1208.1 1429,1210.4 1430,1212.4 1431,1214 1432,1212.4 1433,1208.8 1434,1203.5 1435,1195.7 1436,1184.1 1437,1168.1 1438,1147.8 1439,1124.9 1440,1102.7 1441,1086 1442,1081.2 1443,1083.4 1444,1081.1 1445,1085.9 1446,1102.3 1447,1124.2 1448,1146.8 1449,1166.7 1450,1182.5 1451,1193.9 1452,1201.6 1453,1205.8 1454,1208.3 1454.6,1210.1 1455,1210 1456,1210.8 1457,1210.6 1459,1204.7 1461,1199.2 1462,1196.2 1463,1192.6 1464,1186.3 1465,1176.4 1466,1160.1 1467,1131.2 1468,1081.8 1469,1002.5 1470,885.4 1471,728.6 1472,541.3 1473,347.2 1474,184.6 1475,99.1 1476,92.5 1477,94 1478,119.6 1479,233.3 1480,402.2 1481,584.7 1482,750.3 1483,882.5 1484,977.3 1485,1039.3 1486,1076.8 1487,1098.5 1488,1110.9 1489,1118.4 1490,1122.7 1491,1124.1 1492,1120.2 1493,1119.5 1494,1121.9 1495,1127 1496,1136.5 1497,1148.8 1498,1161.5 1499,1172.7 1500,1181.3 1501,1186.9 1502,1190.4 1503,1192.9 1503.5,1194.9 1504,1196.1 1505,1195.4 1506,1192.6 1508,1182.4 1510,1169.9 1511,1163.9 1512,1159.2 1513,1159.3 1514.2,1160 1515,1158.5 1516,1158.3 1517,1166.1 1518,1177.2 1519,1189.1 1520,1199.9 1521,1208.7 1522,1214.7 1523,1217.6 1524,1219.2 1525,1220.5 1527,1222.1 1528,1223.3 1530,1221.9 1531,1224.4 1532,1225.9 1534,1226.1 1535,1226.4 1536,1228.4 1537,1229.5 1538,1229 1539,1226.6 1540,1222.8 1542,1227.3 1543,1227.5 1544,1227.1 1545,1226.1 1546,1227.3 1547,1228.9 1549,1227.5 1550,1227.3 1551,1224.8 1552,1221.2 1553,1220.3 1554,1220.7 1555,1223.8 1556,1224.1 1557,1220.9 1558,1214.2 1559,1205.8 1560,1193.4 1561,1174.8 1562,1148.8 1563,1115.8 1564,1078.5 1565,1042.4 1566,1015.2 1567,1005.7 1568,1006.1 1569,1003.7 1570,1013 1571,1035.1 1572,1064.3 1573,1094.3 1574,1121 1575,1142 1576,1157 1577,1166.5 1578,1171.9 1579,1175.6 1580,1179.8 1581,1180.5 1583,1175.4 1584,1177.5 1585,1184.6 1587,1202.1 1588,1209.9 1589,1216.5 1590,1221.2 1591,1224 1592,1227.4 1593,1230.5 1594,1231.1 1595,1229.5 1596,1226.4 1597,1225.8 1598,1226.1 1599,1228.3 1600,1229.5 1601,1229 1602,1227.7 1603,1226 1604,1223.6 1605,1222.5 1606,1223.4 1607,1220.8 1608,1216.2 1609,1209.8 1610,1200.8 1611,1189 1613,1160.7 1614,1149 1615,1145.5 1616,1144.4 1616.3,1143 1617,1141 1618,1141.7 1619,1148 1621,1164.1 1622,1171.3 1623,1176.8 1624,1180.2 1625,1179.3 1626,1179.3 1627,1180.1 1628.3,1185.5 1629,1185.4 1630,1184.4 1631,1189.2 1632,1197 1633,1205.8 1634,1214 1635,1221.2 1636,1226.2 1638.6,1232.7 1640,1228.4 1641,1224.3 1642,1219.2 1643,1213.6 1644,1208.3 1645,1205.6 1646,1206.8 1647,1208.7 1648,1206.2 1649,1204.8 1650,1207.8 1652,1217.9 1653,1222.7 1654,1227 1655,1229.5 1656,1231.1 1657,1232.1 1658,1232.4 1659,1232.1 1660,1231.1 1661,1230.9 1662.5,1236 1664,1236.5 1666,1235.4 1668,1237.1 1669,1237.7 1670,1235.9 1672,1230.2 1673,1227.6 1674,1225.3 1675,1221.4 1676,1217.1 1677,1213.1 1678,1209.7 1679,1208.6 1680,1209 1681,1211.6 1683,1215.7 1685,1221.4 1686,1224.5 1687,1224.6 1688,1223.6 1689,1221.9 1690,1218.3 1691,1213.1 1692,1207.1 1693,1200.4 1694,1194.1 1695,1189.1 1696,1186.9 1697,1187.8 1698,1189.3 1699,1187.2 1699.5,1185.3 1700,1184.5 1701,1182.3 1702,1179.6 1703,1174.7 1704,1166.1 1705,1153.1 1706,1134.8 1707,1111.7 1708,1085.6 1709,1060.3 1710,1041.2 1711,1034.4 1712,1035.6 1713,1034.3 1714,1043.1 1715,1067 1716,1098.7 1717,1131.4 1718,1160.3 1719,1183.1 1720,1199.4 1721,1210.1 1722,1216.6 1723,1220.1 1724,1221.7 1726,1223.5 1727,1224.2 1728,1223.2 1729,1221.6 1731,1217.3 1732,1213.4 1733,1206 1734,1195 1735,1180.3 1736,1162.7 1737,1144 1738,1127.8 1739,1117.5 1740,1113.5 1740.5,1113.1 1741,1113.5 1742,1117.7 1743,1128 1744,1144.6 1745,1163.7 1746,1181.8 1747,1197 1748,1208.4 1749,1216.5 1750,1221.5 1751,1223.5 1751.4,1223.1 1752,1220.9 1753,1218.2 1754,1216.6 1755,1215.5 1756,1212.9 1757,1208.5 1758,1202.5 1759,1196.1 1760,1190.2 1761,1185.7 1762,1184.1 1763,1183.9 1764,1186.3 1765,1190.1 1766,1194.5 1767,1198.2 1768,1201.2 1769,1205 1770,1203.9 1771,1201 1772,1195.5 1774,1182.6 1775,1177.2 1776,1175.1 1777.4,1173.4 1778,1172.3 1779,1174.5 1780,1180.2 1781,1188.8 1782,1198.2 1783,1206.9 1784,1213.4 1785,1217.2 1786,1221.6 1787,1226.3 1788,1228.6 1789,1226.4 1790,1222.2 1791,1221.4 1792,1219.1 1793,1214.8 1794,1207.6 1795,1197.8 1796,1185.8 1797,1172.2 1798,1159 1799,1148.6 1800,1141.2 1801,1141.5 1802,1144.5 1803,1148.2 1804,1155.6 1806,1175.5 1807,1184.8 1808,1191.8 1808.6,1196.4 1809,1190.8 1810,1180.7 1812,1157 1813,1146.9 1814,1142.2 1815.4,1142.5 1816,1140.2 1817,1140.1 1818,1148.1 1819,1159.7 1820,1172.4 1821,1184.3 1822,1194.3 1823,1201.6 1824,1206.5 1825,1208.6 1826.7,1209.2 1828,1208.5 1829,1207.5 1830,1205 1831,1200 1832,1191.7 1833,1179.4 1834,1163.3 1835,1144.3 1836,1124.9 1837,1108.9 1838,1100.6 1839.3,1097.1 1840,1098.1 1841,1102.6 1842,1115.8 1843,1135.2 1844,1156.5 1845,1176.1 1846,1192.1 1847,1204.1 1848,1212.6 1849,1218.6 1850,1221.7 1850.6,1221.3 1851,1219.1 1852,1216.3 1854,1211.4 1855,1207.8 1856,1202.9 1858,1190.5 1859,1185.4 1860,1182.5 1861,1182.9 1862,1184.4 1863,1187.2 1864,1188.7 1865,1191.1 1866,1193.9 1868,1200.5 1868.8,1200.2 1871,1188.3 1872,1181.9 1873,1175.9 1874,1170.6 1875,1167.2 1876.3,1163.9 1877,1162.8 1878,1166.2 1879,1174 1880,1184.6 1881,1196.1 1882,1206.7 1883,1215.4 1884,1221.7 1885,1225.8 1886,1227 1887,1226.2 1888,1225 1889,1225.7 1891,1232.5 1892,1235.5 1893,1234.2 1894,1232.5 1895,1229.9 1896,1228.6 1897,1228.3 1899,1224.3 1901,1221 1902,1218.9 1903,1219.2 1905,1221.2 1906,1222 1907,1222.4 1908,1224.1 1910,1228.3 1911,1228.6 1912,1225.4 1913,1220.6 1914,1215.3 1915,1210.4 1916,1204.5 1917,1197.7 1918,1190.5 1919,1184.1 1920,1180.7 1922,1182.6 1923,1183 1924,1186.3 1925,1192.5 1926,1199.6 1927,1206.2 1928,1211.4 1929,1214.6 1930,1216.8 1931,1218.3 1932,1222.7 1933,1226.5 1934,1226.1 1935,1223.9 1936,1219.8 1937,1218.4 1938,1217.6 1939,1218.4 1940,1219.6 1942,1223.4 1943,1224.7 1944,1222.8 1945,1219.6 1946,1215.1 1947,1209.6 1948,1203.1 1950,1189.2 1951,1184.6 1953,1182.1 1954,1180 1955,1180.8 1956,1185.2 1957,1191 1958,1197.5 1960,1209.2 1961,1211 1962,1211.4 1963,1212.2 1964,1214.5 1964.5,1216.2 1965,1216.4 1966,1213.1 1967,1208.8 1968,1203.5 1969,1196.4 1970,1187 1971,1175.5 1972,1163.4 1973,1153 1974,1147.1 1975,1145.8 1975.5,1145.5 1977,1147.3 1978,1150.8 1979,1157.7 1981,1173.6 1982,1180.6 1984,1192.3 1985,1191.6 1987,1188.3 1989,1182 1990,1179.9 1991,1175.4 1992,1168.8 1993,1160.7 1994,1151.8 1995,1143.8 1996,1137.7 1997,1135.3 1998,1134.6 1999,1136.4 2000,1144.5 2001,1157.1 2003,1186.8 2004,1199.2 2005,1208.6 2006,1215.4 2007,1220.5 2008,1224.7 2009,1227.2 2010,1227.9 2011,1228.1 2013,1225.1 2014,1224.6 2015,1224.8 2016,1225.7 2018,1232.6 2019,1236.6 2020,1237.7 2022,1235.8 2023,1234.6 2024,1231.6 2025,1227.3 2026,1221.4 2027,1219.3 2028,1217.9 2029,1215.6 2030,1211.9 2031,1207.4 2032,1202.6 2034,1196 2035,1192.9 2036,1193 2037,1194.2 2039,1201.3 2040,1205.1 2041,1207.3 2043,1205 2044,1203.4 2045,1201.3 2046,1197.9 2047,1195.6 2048,1196.9 2049,1197.6 2050,1197 2051,1197.9 2052,1201.7 2054,1213.3 2055,1217.8 2056,1221.3 2058,1225.9 2059,1226.9 2060,1225.6 2062,1225.1 2063,1226.6 2064,1227.6 2065,1227.7 2066,1226.4 2067,1224.4 2068,1225.4 2069,1227.1 2070,1230.1 2071,1231.3 2072,1230.9 2074,1223.7 2075,1225.2 2076,1223.9 2077,1220.4 2078,1215.3 2079,1209.6 2080,1205.2 2081,1202.6 2082.2,1205.9 2084,1207.3 2085,1210.6 2087,1219.5 2088,1223.3 2090,1228.1 2091,1228.6 2094,1232.2 2095,1233 2096,1232.9 2097,1229.8 2098,1225.7 2099,1220.8 2100,1217.1 2101,1214.5 2102,1216.1 2103,1218.9 2104,1217 2105,1214.3 2106,1213.2 2107,1215.9 2108,1219.8 2109,1224.6 2110,1228.4 2111,1230.1 2112,1230.8 2113,1230.7 2114,1230.3 2115,1230.3 2116,1231.9 2118,1233.8 2120,1230.3 2121,1231.1 2123,1233.5 2124,1232.4 2125,1230.8 2127,1230.3 2130,1231.4 2131,1233.9 2132,1235.3 2133,1234.4 2134,1235.4 2135,1237.5 2136,1237 2137,1235.1 2138,1230.9 2139,1227.6 2140,1223.4 2141,1217 2142,1208.8 2144,1190.3 2145,1183.3 2146,1180.7 2147,1181.8 2149,1184.9 2150,1190.7 2151,1198.8 2152,1207.2 2153,1214.8 2154,1220.9 2155,1226.2 2156,1230 2157,1231.7 2158,1229.6 2159,1226.8 2160,1231.1 2161,1234 2164,1237.2 2165.3,1233.2 2166,1231.4 2167,1229.6 2168,1230.1 2170,1234 2171,1234.7 2174,1224.6 2175,1225.7 2176,1226.1 2177,1222.4 2178,1217.9 2179,1212.1 2182,1191.5 2183,1185.5 2184,1185.4 2185,1186.3 2186,1190 2188,1199.8 2189,1204.2 2190,1207.7 2190.5,1207 2191,1207.5 2192,1203 2193,1196.1 2194,1186.9 2195,1175.5 2196,1163.5 2197,1153.1 2198,1148.1 2199,1148.8 2200,1147.9 2201,1147.5 2202,1153.3 2203,1164.2 2204,1176.9 2205,1189.1 2206,1199.2 2207,1206.8 2208,1211.2 2209,1214.1 2210,1216.3 2211.4,1222.9 2213,1224 2214,1221.9 2215,1218.9 2216,1212.3 2217,1207.6 2218,1207.3 2219,1206 2220,1205.7 2221,1212.3 2222,1217.8 2223,1220.9 2224,1223.4 2225,1223 2227,1223.9 2228,1225.5 2229,1225.8 2230,1224.2 2231,1224.5 2232,1225.6 2233,1225.1" stroke="#0000ff" stroke-width="10"/>
</g>
<path d="M343,1584.6 L343,51 L2235,51 L2235,1584.6" fill="none" stroke="#000" stroke-width="10" stroke-linejoin="round" stroke-linecap="round" shape-rendering="crispEdges"/>
<line x1="343" y1="1544.5" x2="2235" y2="1544.5" stroke="#000" stroke-width="9.4" shape-rendering="crispEdges"/>
<path d="M659.7,1544.5 L659.7,1585 M974.7,1544.5 L974.7,1585 M1289.8,1544.5 L1289.8,1585 M1604.8,1544.5 L1604.8,1585 M1919.8,1544.5 L1919.8,1585 M502.1,1544.5 L502.1,1565 M817.2,1544.5 L817.2,1565 M1132.2,1544.5 L1132.2,1565 M1447.3,1544.5 L1447.3,1565 M1762.3,1544.5 L1762.3,1565 M2077.4,1544.5 L2077.4,1565" fill="none" stroke="#000" stroke-width="9.8" stroke-linecap="round" shape-rendering="crispEdges"/>
<text transform="translate(343,1674) scale(0.9615,1)" font-size="83.2" text-anchor="middle">5</text>
<text transform="translate(659.7,1674) scale(0.9615,1)" font-size="83.2" text-anchor="middle">10</text>
<text transform="translate(974.7,1674) scale(0.9615,1)" font-size="83.2" text-anchor="middle">15</text>
<text transform="translate(1289.8,1674) scale(0.9615,1)" font-size="83.2" text-anchor="middle">20</text>
<text transform="translate(1604.8,1674) scale(0.9615,1)" font-size="83.2" text-anchor="middle">25</text>
<text transform="translate(1919.8,1674) scale(0.9615,1)" font-size="83.2" text-anchor="middle">30</text>
<text transform="translate(2234.9,1674) scale(0.9615,1)" font-size="83.2" text-anchor="middle">35</text>
<text transform="translate(1313.3,1885.4) scale(0.9803,1)" font-size="103.5" text-anchor="middle">Angle [2θ]</text>
<text transform="translate(114.7,862.5) rotate(-90) scale(0.9754,1)" font-size="103.5" text-anchor="middle">Intensity [a.u]</text>
<text class="cap" x="1155" y="2009.5" font-size="76" text-anchor="middle">(<tspan font-weight="bold">a</tspan>)</text>
</g>
<g id="chart-b">
<path d="M354,2192.5 L358.1,2193.2 L359,2193.5 L360.9,2195.3 L363,2199 L363,2199.1 L364.7,2202.7 L366.2,2206.5 L367.7,2210.2 L368.4,2211.5 L369.6,2213.6 L371.9,2216.9 L374.3,2220.1 L375,2221 L376.8,2223.3 L379.4,2226.4 L382,2229.3 L382,2229.3 L384.8,2232.2 L387.8,2234.9 L388,2235 L391.1,2237.3 L394.5,2239.4 L395.8,2240 L398.1,2240.9 L401.9,2242.1 L405.9,2243.1 L408,2243.5 L409.8,2243.8 L413.7,2244.5 L417.7,2245.1 L421.7,2245.6 L423,2245.7 L425.6,2246 L429.6,2246.4 L433.6,2246.8 L437.6,2247.2 L441.6,2247.5 L445.6,2247.8 L449.6,2248 L450.5,2248 L453.6,2248.1 L457.6,2248.2 L461.6,2248.3 L465.6,2248.3 L469.6,2248.4 L473.6,2248.5 L477.6,2248.5 L481.6,2248.6 L485.6,2248.6 L489.6,2248.7 L491.5,2248.7 L493.6,2248.7 L497.6,2248.8 L501.6,2248.8 L505.6,2248.9 L509.6,2248.9 L513.6,2249 L517.6,2249 L521.6,2249.1 L525.6,2249.1 L529.6,2249.1 L533.6,2249.2 L537.6,2249.2 L541.6,2249.3 L545.6,2249.3 L549.6,2249.4 L553.6,2249.4 L557.6,2249.4 L561.6,2249.5 L565.6,2249.5 L569.6,2249.5 L573.6,2249.6 L577.6,2249.6 L581.6,2249.6 L585.6,2249.7 L589.6,2249.7 L593.6,2249.7 L597.6,2249.8 L600,2249.8 L601.6,2249.8 L605.6,2249.8 L609.6,2249.9 L613.6,2249.9 L617.6,2249.9 L621.6,2250 L625.6,2250 L629.6,2250 L633.6,2250.1 L637.6,2250.1 L641.6,2250.1 L645.6,2250.2 L649.6,2250.2 L653.6,2250.2 L657.6,2250.2 L661.6,2250.3 L665.6,2250.3 L669.6,2250.3 L673.6,2250.3 L677.6,2250.4 L681.6,2250.4 L685.6,2250.4 L689.6,2250.5 L693.6,2250.5 L697.6,2250.5 L701.6,2250.5 L705.6,2250.6 L709.6,2250.6 L713.6,2250.6 L717.6,2250.7 L721.6,2250.7 L725.6,2250.7 L729.6,2250.7 L733.6,2250.8 L736.7,2250.8 L737.6,2250.8 L741.6,2250.8 L745.6,2250.9 L749.6,2250.9 L753.6,2250.9 L757.6,2251 L761.6,2251 L765.6,2251 L769.6,2251.1 L773.6,2251.1 L777.6,2251.2 L781.6,2251.2 L785.6,2251.2 L789.6,2251.3 L793.6,2251.3 L797.6,2251.3 L801.6,2251.4 L805.6,2251.4 L809.6,2251.5 L813.6,2251.5 L817.6,2251.5 L821.6,2251.6 L825.5,2251.6 L829.5,2251.7 L833.5,2251.7 L837.5,2251.7 L841.5,2251.8 L845.5,2251.8 L849.5,2251.8 L853.5,2251.9 L857.5,2251.9 L861.5,2252 L865.5,2252 L869.5,2252 L873.5,2252.1 L877.5,2252.1 L881.5,2252.1 L885.5,2252.2 L889.5,2252.2 L893.5,2252.2 L897.5,2252.3 L900,2252.3 L901.5,2252.3 L905.5,2252.3 L909.5,2252.4 L913.5,2252.4 L917.5,2252.4 L921.5,2252.5 L925.5,2252.5 L929.5,2252.5 L933.5,2252.6 L937.5,2252.6 L941.5,2252.6 L945.5,2252.6 L949.5,2252.7 L953.5,2252.7 L957.5,2252.7 L961.5,2252.8 L965.5,2252.8 L969.5,2252.8 L973.5,2252.8 L977.5,2252.9 L981.5,2252.9 L985.5,2252.9 L989.5,2252.9 L993.5,2253 L997.5,2253 L1001.5,2253 L1005.5,2253 L1009.5,2253.1 L1013.5,2253.1 L1017.5,2253.1 L1021.5,2253.2 L1025.5,2253.2 L1029.5,2253.2 L1033.5,2253.2 L1037.5,2253.3 L1041.5,2253.3 L1045.5,2253.3 L1049.5,2253.3 L1053.5,2253.4 L1057.5,2253.4 L1061.5,2253.4 L1065.5,2253.5 L1069.5,2253.5 L1073.5,2253.5 L1077.5,2253.5 L1081.5,2253.6 L1085.5,2253.6 L1089.5,2253.6 L1093.5,2253.7 L1097.5,2253.7 L1101.5,2253.7 L1105.5,2253.8 L1109.5,2253.8 L1113.5,2253.8 L1117.5,2253.9 L1121.5,2253.9 L1125.5,2253.9 L1129.5,2254 L1133.5,2254 L1133.5,2254 L1137.5,2254 L1141.5,2254.1 L1145.5,2254.1 L1149.5,2254.1 L1153.5,2254.2 L1157.5,2254.2 L1161.5,2254.3 L1165.5,2254.3 L1169.5,2254.3 L1173.5,2254.4 L1177.5,2254.4 L1181.5,2254.5 L1185.5,2254.5 L1189.5,2254.5 L1193.5,2254.6 L1197.5,2254.6 L1201.5,2254.7 L1205.5,2254.7 L1209.5,2254.8 L1213.5,2254.8 L1217.5,2254.9 L1221.5,2254.9 L1225.5,2255 L1229.5,2255 L1233.5,2255 L1237.5,2255.1 L1241.5,2255.2 L1245.5,2255.2 L1249.5,2255.3 L1253.5,2255.3 L1257.5,2255.4 L1261.5,2255.4 L1265.5,2255.5 L1269.5,2255.5 L1273.5,2255.6 L1277.5,2255.6 L1281.5,2255.7 L1285.5,2255.8 L1289.5,2255.8 L1293.5,2255.9 L1297.5,2256 L1300,2256 L1301.5,2256 L1305.5,2256.1 L1309.5,2256.2 L1313.5,2256.2 L1317.5,2256.3 L1321.5,2256.4 L1325.5,2256.5 L1329.5,2256.6 L1333.5,2256.7 L1337.5,2256.8 L1341.5,2256.9 L1345.5,2257 L1349.5,2257.1 L1353.5,2257.2 L1357.5,2257.3 L1361.5,2257.4 L1365.5,2257.5 L1369.5,2257.6 L1373.5,2257.7 L1377.5,2257.8 L1381.5,2257.9 L1385.5,2258 L1389.5,2258.1 L1393.5,2258.2 L1397.5,2258.3 L1400,2258.4 L1401.5,2258.4 L1405.5,2258.5 L1409.5,2258.6 L1413.5,2258.7 L1417.5,2258.8 L1421.5,2258.9 L1425.5,2259 L1429.5,2259.1 L1433.6,2259.2 L1437.6,2259.3 L1441.6,2259.4 L1445.5,2259.6 L1449.5,2259.7 L1453.5,2259.9 L1457.5,2260.1 L1461.5,2260.3 L1461.6,2260.3 L1465.5,2260.6 L1469.5,2261.1 L1473.5,2261.7 L1477.4,2262.5 L1481.3,2263.3 L1485.2,2264.2 L1486.2,2264.5 L1488.9,2265.3 L1492.7,2266.7 L1496.4,2268.4 L1500,2270.3 L1503.5,2272.4 L1505.9,2273.9 L1506.8,2274.5 L1510,2276.8 L1513.1,2279.4 L1516.1,2282.2 L1518.9,2285.1 L1521.6,2288.1 L1523.1,2289.9 L1524.1,2291.1 L1526.4,2294.4 L1528.5,2297.7 L1530.6,2301.3 L1532.5,2304.8 L1534.2,2308.3 L1534.2,2308.4 L1535.9,2312 L1537.5,2315.7 L1539,2319.4 L1540.4,2323.2 L1541.7,2327 L1542.8,2330.5 L1542.9,2330.8 L1544,2334.6 L1545,2338.5 L1546,2342.4 L1546.9,2346.3 L1547.7,2350.2 L1547.7,2350.2 L1548.5,2354.1 L1549.2,2358 L1549.9,2362 L1550.6,2365.9 L1551.2,2369.9 L1551.8,2373.8 L1552.4,2377.8 L1552.7,2379.8 L1553,2381.8 L1553.5,2385.7 L1554,2389.7 L1554.5,2393.7 L1555,2397.6 L1555.5,2401.6 L1555.9,2405.6 L1556.4,2409.6 L1556.8,2413.5 L1557.2,2417.5 L1557.6,2421.5 L1557.6,2421.6 L1558,2425.5 L1558.3,2429.5 L1558.7,2433.4 L1559,2437.4 L1559.4,2441.4 L1559.7,2445.4 L1560,2449.4 L1560.3,2453.4 L1560.7,2457.4 L1561,2461.4 L1561.3,2465.3 L1561.3,2465.9 L1561.6,2469.3 L1561.8,2473.3 L1562.1,2477.3 L1562.4,2481.3 L1562.7,2485.3 L1562.9,2489.3 L1563.2,2493.3 L1563.5,2497.3 L1563.7,2501.3 L1564,2505.2 L1564.2,2509.2 L1564.5,2513.2 L1564.8,2517.2 L1565,2520.1 L1565.1,2521.2 L1565.4,2525.2 L1565.7,2529.2 L1566,2533.2 L1566.3,2537.2 L1566.7,2541.2 L1567,2545.1 L1567.3,2549.1 L1567.6,2553.1 L1567.9,2557.1 L1568.2,2561.1 L1568.5,2565.1 L1568.7,2569.1 L1568.7,2569.4 L1568.9,2573.1 L1569.1,2577.1 L1569.2,2581.1 L1569.4,2585.1 L1569.6,2589.1 L1569.7,2593 L1569.9,2597 L1570,2601 L1570.1,2605 L1570.3,2609 L1570.4,2613 L1570.5,2617 L1570.7,2621 L1570.9,2625 L1571,2629 L1571.1,2630.9 L1571.2,2633 L1571.4,2637 L1571.6,2641 L1571.8,2645 L1572,2649 L1572.2,2653 L1572.4,2657 L1572.6,2661 L1572.8,2665 L1573.1,2669 L1573.3,2673 L1573.5,2677 L1573.6,2680.2 L1573.6,2681 L1573.8,2685 L1574,2689 L1574.2,2693 L1574.4,2696.9 L1574.5,2700.9 L1574.7,2704.9 L1574.9,2708.9 L1575.1,2712.9 L1575.2,2716.9 L1575.4,2720.9 L1575.5,2724.9 L1575.7,2728.9 L1575.8,2732.9 L1576,2736.9 L1576.1,2740.9 L1576.1,2741.7 L1576.2,2744.9 L1576.3,2748.9 L1576.4,2752.9 L1576.5,2756.9 L1576.6,2760.9 L1576.7,2764.9 L1576.8,2768.9 L1576.9,2772.9 L1577,2776.9 L1577.1,2780.9 L1577.2,2784.9 L1577.3,2788.9 L1577.4,2792.9 L1577.5,2796.9 L1577.5,2800.9 L1577.6,2804.9 L1577.7,2808.9 L1577.8,2812.9 L1577.8,2815.6 L1577.8,2816.9 L1577.9,2820.9 L1577.9,2824.9 L1578,2828.9 L1578,2832.9 L1578.1,2836.9 L1578.1,2840.9 L1578.1,2844.9 L1578.2,2848.9 L1578.2,2852.9 L1578.3,2856.9 L1578.3,2860.9 L1578.4,2864.9 L1578.4,2868.9 L1578.5,2872.9 L1578.5,2873.9 L1578.6,2876.9 L1578.6,2880.9 L1578.8,2884.9 L1578.9,2888.9 L1579,2892.9 L1579.2,2896.9 L1579.3,2900.9 L1579.5,2904.9 L1579.6,2908.9 L1579.8,2912.9 L1580,2916.9 L1580.1,2920.9 L1580.3,2924.9 L1580.4,2928.9 L1580.6,2932.9 L1580.7,2936.9 L1580.8,2940.9 L1580.9,2944.8 L1581,2947.7 L1581,2948.8 L1581.1,2952.8 L1581.2,2956.8 L1581.3,2960.8 L1581.3,2964.8 L1581.4,2968.8 L1581.5,2972.8 L1581.5,2976.8 L1581.6,2980.8 L1581.6,2984.8 L1581.7,2988.8 L1581.7,2992.8 L1581.8,2996.8 L1581.9,3000.8 L1581.9,3004.8 L1582,3008.8 L1582,3012.8 L1582.1,3016.8 L1582.2,3020.8 L1582.2,3021.6 L1582.3,3024.8 L1582.3,3028.8 L1582.4,3032.8 L1582.5,3036.8 L1582.6,3040.8 L1582.7,3044.8 L1582.8,3048.8 L1582.8,3052.8 L1582.9,3056.8 L1583,3060.8 L1583.1,3064.8 L1583.2,3068.8 L1583.3,3072.8 L1583.4,3076.8 L1583.5,3080.8 L1583.5,3083.2 L1583.5,3084.8 L1583.6,3088.8 L1583.7,3092.8 L1583.8,3096.8 L1583.8,3100.8 L1583.9,3104.8 L1584,3108.8 L1584.1,3112.8 L1584.1,3116.8 L1584.2,3120.8 L1584.3,3124.8 L1584.4,3128.8 L1584.5,3132.8 L1584.5,3136.8 L1584.6,3140.8 L1584.7,3144.7 L1584.7,3144.8 L1584.8,3148.8 L1584.9,3152.8 L1585,3156.8 L1585.1,3160.8 L1585.2,3164.8 L1585.3,3168.8 L1585.4,3172.8 L1585.5,3176.8 L1585.6,3180.8 L1585.7,3184.8 L1585.8,3188.8 L1585.9,3192.8 L1585.9,3194 L1586,3196.8 L1586.1,3200.8 L1586.2,3204.8 L1586.3,3208.8 L1586.4,3212.8 L1586.5,3216.8 L1586.5,3220.8 L1586.6,3224.8 L1586.7,3228.8 L1586.8,3232.8 L1586.9,3236.8 L1587,3240.8 L1587.1,3243.2 L1587.1,3244.8 L1587.2,3248.8 L1587.3,3252.8 L1587.4,3256.8 L1587.5,3260.8 L1587.6,3264.8 L1587.7,3268.8 L1587.8,3272.8 L1587.9,3276.8 L1588,3280.8 L1588.2,3284.8 L1588.3,3288.8 L1588.4,3292.5 L1588.4,3292.8 L1588.6,3296.8 L1588.7,3300.8 L1588.9,3304.8 L1589.1,3308.7 L1589.3,3312.7 L1589.5,3316.7 L1589.7,3320.7 L1589.9,3324.7 L1590.1,3328.7 L1590.3,3332.7 L1590.6,3336.7 L1590.8,3340.7 L1590.8,3341.7 L1590.9,3344.7 L1591.1,3348.7 L1591.3,3352.7 L1591.4,3356.7 L1591.6,3360.7 L1591.8,3364.7 L1592,3368.7 L1592.2,3372.7 L1592.4,3376.7 L1592.6,3378.7 L1592.8,3380.7 L1593.2,3384.6 L1593.9,3388.6 L1594.5,3392 L1594.6,3392.6 L1595.8,3396.3 L1595.8,3396.3 L1597.2,3392.5 L1597.3,3392 L1597.9,3388.6 L1598.5,3384.6 L1598.8,3380.6 L1599,3378.7 L1599.1,3376.6 L1599.4,3372.6 L1599.6,3368.7 L1599.8,3364.7 L1600,3360.7 L1600.1,3356.7 L1600.3,3352.7 L1600.4,3348.7 L1600.6,3344.7 L1600.7,3341.7 L1600.7,3340.7 L1600.9,3336.7 L1601.1,3332.7 L1601.4,3328.7 L1601.6,3324.7 L1601.8,3320.7 L1602,3316.7 L1602.2,3312.7 L1602.4,3308.7 L1602.6,3304.7 L1602.8,3300.7 L1602.9,3296.7 L1603.1,3292.7 L1603.1,3292.5 L1603.2,3288.7 L1603.4,3284.7 L1603.5,3280.7 L1603.6,3276.7 L1603.7,3272.7 L1603.9,3268.7 L1604,3264.7 L1604.1,3260.7 L1604.2,3256.7 L1604.3,3252.7 L1604.4,3248.7 L1604.5,3244.7 L1604.6,3240.7 L1604.7,3236.7 L1604.8,3232.7 L1604.9,3230.9 L1605,3228.8 L1605.1,3224.8 L1605.2,3220.8 L1605.3,3216.8 L1605.4,3212.8 L1605.6,3208.8 L1605.7,3204.8 L1605.8,3200.8 L1605.9,3196.8 L1606.1,3192.8 L1606.2,3188.8 L1606.3,3184.8 L1606.4,3180.8 L1606.6,3176.8 L1606.7,3172.8 L1606.8,3169.4 L1606.8,3168.8 L1607,3164.8 L1607.1,3160.8 L1607.2,3156.8 L1607.4,3152.8 L1607.5,3148.8 L1607.6,3144.8 L1607.8,3140.8 L1607.9,3136.8 L1608.1,3132.8 L1608.2,3128.8 L1608.3,3124.8 L1608.5,3120.8 L1608.6,3116.8 L1608.7,3112.8 L1608.9,3108.8 L1609,3104.8 L1609.1,3100.8 L1609.3,3096.8 L1609.3,3095.5 L1609.4,3092.8 L1609.5,3088.8 L1609.6,3084.8 L1609.7,3080.8 L1609.8,3076.8 L1609.9,3072.8 L1610,3068.8 L1610.1,3064.8 L1610.2,3060.8 L1610.3,3056.8 L1610.5,3052.8 L1610.6,3048.8 L1610.7,3044.8 L1610.8,3040.8 L1610.9,3036.8 L1611,3032.8 L1611.1,3028.8 L1611.2,3024.8 L1611.3,3021.6 L1611.3,3020.8 L1611.4,3016.9 L1611.6,3012.9 L1611.7,3008.9 L1611.8,3004.9 L1611.9,3000.9 L1612.1,2996.9 L1612.2,2992.9 L1612.3,2988.9 L1612.5,2984.9 L1612.6,2980.9 L1612.7,2976.9 L1612.9,2972.9 L1613,2968.9 L1613.1,2964.9 L1613.3,2960.9 L1613.4,2956.9 L1613.5,2952.9 L1613.7,2948.9 L1613.7,2947.7 L1613.8,2944.9 L1613.9,2940.9 L1614.1,2936.9 L1614.2,2932.9 L1614.3,2928.9 L1614.5,2924.9 L1614.6,2920.9 L1614.8,2916.9 L1614.9,2912.9 L1615,2908.9 L1615.2,2904.9 L1615.3,2900.9 L1615.4,2896.9 L1615.6,2892.9 L1615.7,2888.9 L1615.8,2884.9 L1616,2880.9 L1616.1,2876.9 L1616.2,2873.9 L1616.2,2872.9 L1616.4,2868.9 L1616.5,2864.9 L1616.6,2860.9 L1616.7,2856.9 L1616.8,2852.9 L1616.9,2848.9 L1617,2844.9 L1617.2,2840.9 L1617.3,2836.9 L1617.4,2832.9 L1617.5,2828.9 L1617.6,2825 L1617.7,2821 L1617.9,2817 L1617.9,2815.6 L1618,2813 L1618.1,2809 L1618.2,2805 L1618.4,2801 L1618.5,2797 L1618.6,2793 L1618.8,2789 L1618.9,2785 L1619,2781 L1619.2,2777 L1619.3,2773 L1619.4,2769 L1619.6,2765 L1619.7,2761 L1619.8,2757 L1620,2753 L1620.1,2749 L1620.3,2745 L1620.4,2741.7 L1620.4,2741 L1620.6,2737 L1620.7,2733 L1620.9,2729 L1621,2725 L1621.2,2721 L1621.4,2717 L1621.5,2713 L1621.7,2709 L1621.9,2705 L1622,2701 L1622.2,2697 L1622.4,2693 L1622.4,2692.5 L1622.5,2689 L1622.7,2685 L1622.9,2681 L1623.1,2677.1 L1623.2,2673.1 L1623.4,2669.1 L1623.6,2665.1 L1623.8,2661.1 L1624,2657.1 L1624.1,2653.1 L1624.3,2649.1 L1624.5,2645.1 L1624.6,2643.3 L1624.7,2641.1 L1624.9,2637.1 L1625.1,2633.1 L1625.3,2629.1 L1625.4,2625.1 L1625.6,2621.1 L1625.8,2617.1 L1626,2613.1 L1626.2,2609.1 L1626.4,2605.1 L1626.6,2601.1 L1626.8,2597.1 L1627,2594 L1627,2593.1 L1627.3,2589.2 L1627.5,2585.2 L1627.8,2581.2 L1628.1,2577.2 L1628.3,2573.2 L1628.6,2569.2 L1628.9,2565.2 L1629.2,2561.2 L1629.4,2557.2 L1629.7,2553.2 L1629.9,2549.2 L1630.2,2545.2 L1630.2,2544.8 L1630.4,2541.3 L1630.6,2537.3 L1630.8,2533.3 L1631,2529.3 L1631.2,2525.3 L1631.4,2521.3 L1631.6,2517.3 L1631.8,2513.3 L1632,2509.3 L1632.2,2505.3 L1632.4,2501.3 L1632.6,2497.3 L1632.7,2495.5 L1632.8,2493.3 L1633.1,2489.3 L1633.3,2485.3 L1633.6,2481.3 L1633.8,2477.3 L1634.1,2473.4 L1634.4,2469.4 L1634.7,2465.4 L1635,2461.4 L1635.2,2458.6 L1635.3,2457.4 L1635.6,2453.4 L1636,2449.4 L1636.4,2445.5 L1636.8,2441.5 L1637.2,2437.5 L1637.6,2433.5 L1638,2429.5 L1638.5,2425.6 L1638.9,2421.6 L1638.9,2421.6 L1639.4,2417.6 L1639.8,2413.6 L1640.3,2409.7 L1640.8,2405.7 L1641.3,2401.7 L1641.8,2397.8 L1642.3,2393.8 L1642.5,2392.1 L1642.8,2389.8 L1643.2,2385.8 L1643.6,2381.9 L1644.1,2377.9 L1644.5,2373.9 L1645,2369.9 L1645.4,2366 L1645.9,2362 L1646.2,2360.1 L1646.5,2358 L1647.1,2354.1 L1647.7,2350.1 L1648.4,2346.2 L1649.1,2342.2 L1649.8,2338.3 L1649.9,2337.9 L1650.6,2334.4 L1651.4,2330.5 L1652.2,2326.5 L1653.1,2322.6 L1654.1,2318.8 L1654.9,2315.7 L1655.1,2314.9 L1656.3,2311.1 L1657.5,2307.2 L1658.9,2303.5 L1660.4,2299.8 L1661,2298.5 L1662.1,2296.2 L1664.1,2292.6 L1666.2,2289.1 L1668.7,2286 L1669.6,2285 L1671.4,2283.3 L1674.7,2280.9 L1678.2,2278.8 L1680.7,2277.6 L1681.8,2277.1 L1685.5,2275.7 L1689.4,2274.4 L1693.3,2273.4 L1695.5,2273.1 L1697.2,2272.9 L1701.2,2272.5 L1705.2,2272.2 L1709.2,2271.9 L1713.2,2271.7 L1717.2,2271.5 L1720.1,2271.4 L1721.2,2271.4 L1725.2,2271.3 L1729.2,2271.2 L1733.2,2271.1 L1737.2,2271 L1741.2,2271 L1745.2,2270.9 L1749.2,2270.8 L1753.2,2270.8 L1757.2,2270.7 L1760,2270.7 L1761.2,2270.7 L1765.2,2270.6 L1769.2,2270.6 L1773.2,2270.5 L1777.2,2270.5 L1781.2,2270.4 L1785.2,2270.4 L1789.2,2270.3 L1793.2,2270.3 L1797.2,2270.3 L1801.2,2270.2 L1805.2,2270.2 L1809.2,2270.1 L1813.2,2270.1 L1817.2,2270 L1821.2,2270 L1825.2,2270 L1829.2,2269.9 L1833.2,2269.9 L1837.2,2269.9 L1841.2,2269.8 L1845.2,2269.8 L1849.2,2269.8 L1853.2,2269.7 L1857.2,2269.7 L1861.2,2269.6 L1865.2,2269.6 L1869.2,2269.6 L1873.2,2269.5 L1877.2,2269.5 L1881.2,2269.5 L1885.2,2269.4 L1889.2,2269.4 L1893.2,2269.4 L1897.2,2269.3 L1900,2269.3 L1901.2,2269.3 L1905.2,2269.3 L1909.2,2269.2 L1913.2,2269.2 L1917.2,2269.1 L1921.2,2269.1 L1925.2,2269.1 L1929.2,2269 L1933.2,2269 L1937.2,2269 L1941.2,2268.9 L1945.2,2268.9 L1949.2,2268.9 L1953.2,2268.8 L1957.2,2268.8 L1961.2,2268.8 L1965.2,2268.7 L1969.2,2268.7 L1973.2,2268.7 L1977.2,2268.6 L1981.2,2268.6 L1985.2,2268.6 L1989.2,2268.5 L1993.2,2268.5 L1997.2,2268.5 L2001.2,2268.4 L2005.2,2268.4 L2009.2,2268.3 L2013.2,2268.3 L2017.2,2268.3 L2021.2,2268.2 L2025.2,2268.2 L2029.2,2268.2 L2033.2,2268.1 L2037.2,2268.1 L2041.2,2268.1 L2045.2,2268 L2049.2,2268 L2050,2268 L2053.2,2268 L2057.2,2267.9 L2061.2,2267.9 L2065.2,2267.9 L2069.2,2267.8 L2073.2,2267.8 L2077.2,2267.8 L2081.2,2267.7 L2085.2,2267.7 L2089.2,2267.7 L2093.2,2267.6 L2097.2,2267.6 L2101.2,2267.6 L2105.2,2267.5 L2109.2,2267.5 L2113.2,2267.5 L2117.2,2267.4 L2121.2,2267.4 L2125.2,2267.3 L2129.2,2267.3 L2133.2,2267.3 L2137.2,2267.2 L2141.2,2267.2 L2142.2,2267.2" fill="none" stroke="#000" stroke-width="8.8" stroke-linejoin="round" stroke-linecap="round" shape-rendering="crispEdges"/>
<path d="M350,3537.3 L350,2054 L2179,2054 L2179,3517" fill="none" stroke="#000" stroke-width="9.8" stroke-linejoin="round" stroke-linecap="round" shape-rendering="crispEdges"/>
<line x1="350" y1="3497.4" x2="2179" y2="3497.4" stroke="#000" stroke-width="9.3" shape-rendering="crispEdges"/>
<path d="M632.5,3497.4 L632.5,3537.3 M913.7,3497.4 L913.7,3537.3 M1194.9,3497.4 L1194.9,3537.3 M1476.1,3497.4 L1476.1,3537.3 M1757.3,3497.4 L1757.3,3537.3 M2038.5,3497.4 L2038.5,3537.3 M491.9,3497.4 L491.9,3517 M773.1,3497.4 L773.1,3517 M1054.3,3497.4 L1054.3,3517 M1335.5,3497.4 L1335.5,3517 M1616.7,3497.4 L1616.7,3517 M1897.9,3497.4 L1897.9,3517" fill="none" stroke="#000" stroke-width="8.8" stroke-linecap="round" shape-rendering="crispEdges"/>
<text transform="translate(350,3622) scale(0.9615,1)" font-size="81.6" text-anchor="middle">20</text>
<text transform="translate(632.5,3622) scale(0.9615,1)" font-size="81.6" text-anchor="middle">40</text>
<text transform="translate(913.7,3622) scale(0.9615,1)" font-size="81.6" text-anchor="middle">60</text>
<text transform="translate(1194.9,3622) scale(0.9615,1)" font-size="81.6" text-anchor="middle">80</text>
<text transform="translate(1476.1,3622) scale(0.9615,1)" font-size="81.6" text-anchor="middle">100</text>
<text transform="translate(1757.3,3622) scale(0.9615,1)" font-size="81.6" text-anchor="middle">120</text>
<text transform="translate(2038.5,3622) scale(0.9615,1)" font-size="81.6" text-anchor="middle">140</text>
<text transform="translate(939.3,3806) scale(0.9852,1)" font-size="97.8">Temperature [<tspan font-size="94" font-weight="350" dx="1">℃</tspan><tspan dx="1.5">]</tspan></text>
<text transform="translate(193.8,2747.5) rotate(-90) scale(0.9852,1)" font-size="98.5" text-anchor="middle">Heat Flow [W/g]</text>
<text class="cap" x="1155" y="3931" font-size="76" text-anchor="middle">(<tspan font-weight="bold">b</tspan>)</text>
<text transform="translate(519,2413.6) scale(0.9709,1)" font-size="77.2">Onset: 106.55<tspan font-size="74" font-weight="350">℃</tspan></text>
<text transform="translate(1616.5,3419.7) scale(0.9563,1)" font-size="77.2">108.47°C</text>
</g>
</svg></body></html>
